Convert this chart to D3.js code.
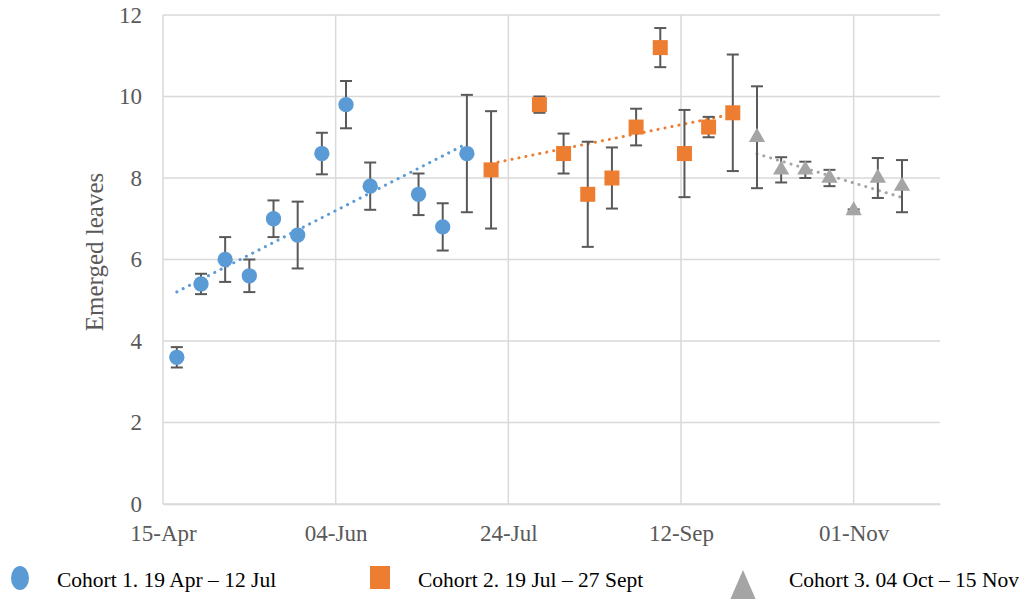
<!DOCTYPE html>
<html>
<head>
<meta charset="utf-8">
<script src="https://cdn.jsdelivr.net/npm/d3@7"></script>
<style>
  body { margin: 0; background: #fff; }
  svg { display: block; font-family: "Liberation Serif", "Times New Roman", serif; }
</style>
</head>
<body>
<div id="chart"></div>
<script>
// cohort 1
var c1Dates = ['2017-04-19', '2017-04-26', '2017-05-03', '2017-05-10', '2017-05-17', '2017-05-24',
    '2017-05-31', '2017-06-07', '2017-06-14', '2017-06-28', '2017-07-05', '2017-07-12'];
var c1Values = [3.6, 5.4, 6.0, 5.6, 7.0, 6.6, 8.6, 9.8, 7.8, 7.6, 6.8, 8.6];
var c1Errors = [0.25, 0.25, 0.55, 0.4, 0.45, 0.82, 0.51, 0.58, 0.58, 0.51, 0.58, 1.44];

// cohort 2
var c2Dates = ['2017-07-19', '2017-08-02', '2017-08-09', '2017-08-16', '2017-08-23', '2017-08-30',
    '2017-09-06', '2017-09-13', '2017-09-20', '2017-09-27'];
var c2Values = [8.2, 9.8, 8.6, 7.6, 8.0, 9.25, 11.2, 8.6, 9.25, 9.6];
var c2Errors = [1.44, 0.2, 0.49, 1.29, 0.75, 0.45, 0.48, 1.07, 0.25, 1.43];

// cohort 3
var c3Dates = ['2017-10-04', '2017-10-11', '2017-10-18', '2017-10-25', '2017-11-01', '2017-11-08', '2017-11-15'];
var c3Values = [9.0, 8.2, 8.2, 8.0, 7.2, 8.0, 7.8];
var c3Errors = [1.25, 0.31, 0.2, 0.2, 0.03, 0.49, 0.64];

var seriesNames = ['Cohort 1. 19 Apr \u2013 12 Jul', 'Cohort 2. 19 Jul \u2013 27 Sept', 'Cohort 3. 04 Oct \u2013 15 Nov'];
var xTickDates = ['2017-04-15', '2017-06-04', '2017-07-24', '2017-09-12', '2017-11-01'];
var yTicks = [0, 2, 4, 6, 8, 10, 12];

var width = 1019,
    height = 599,
    margin = { left: 163, right: 79, top: 15, bottom: 95 },
    colors = ['#5b9bd5', '#ed7d31', '#a5a5a5'],
    textColor = '#595959',
    gridColor = '#d9d9d9';

var parse = d3.timeParse('%Y-%m-%d');

function makeSeries(dates, values, errors, shape, i) {
    return {
        shape: shape,
        color: colors[i],
        name: seriesNames[i],
        points: dates.map(function(d, j) {
            return { date: parse(d), value: values[j], err: errors[j] };
        })
    };
}

var series = [
    makeSeries(c1Dates, c1Values, c1Errors, 'circle', 0),
    makeSeries(c2Dates, c2Values, c2Errors, 'square', 1),
    makeSeries(c3Dates, c3Values, c3Errors, 'triangle', 2)
];

var svg = d3.select('#chart')
    .append('svg')
    .attr('width', width)
    .attr('height', height);

var x = d3.scaleTime()
    .domain([parse('2017-04-15'), parse('2017-11-26')])
    .range([margin.left, width - margin.right]);

var y = d3.scaleLinear()
    .domain([0, 12])
    .range([height - margin.bottom, margin.top]);

// grid
svg.append('g')
    .selectAll('line.h')
    .data(yTicks)
    .enter()
    .append('line')
    .attr('x1', x.range()[0])
    .attr('x2', x.range()[1])
    .attr('y1', function(d) { return y(d); })
    .attr('y2', function(d) { return y(d); })
    .style('stroke', gridColor)
    .style('stroke-width', 1.5);

svg.append('g')
    .selectAll('line.v')
    .data(xTickDates.map(parse))
    .enter()
    .append('line')
    .attr('x1', function(d) { return x(d); })
    .attr('x2', function(d) { return x(d); })
    .attr('y1', y(12))
    .attr('y2', y(0))
    .style('stroke', gridColor)
    .style('stroke-width', 1.5);

// axes
var xAxis = svg.append('g')
    .attr('transform', 'translate(0,' + y(0) + ')')
    .call(d3.axisBottom(x)
        .tickValues(xTickDates.map(parse))
        .tickFormat(d3.timeFormat('%d-%b'))
        .tickSize(0)
        .tickPadding(21));
xAxis.select('.domain').style('stroke', gridColor).style('stroke-width', 1.5);
xAxis.selectAll('text').style('font-size', '23px').style('fill', textColor)
    .style('font-family', '"Liberation Serif", serif');

var yAxis = svg.append('g')
    .attr('transform', 'translate(' + (margin.left - 21) + ',0)')
    .call(d3.axisLeft(y).tickValues(yTicks).tickFormat(d3.format('d')).tickSize(0).tickPadding(0));
yAxis.select('.domain').remove();
yAxis.selectAll('text').style('font-size', '23px').style('fill', textColor)
    .style('font-family', '"Liberation Serif", serif');

svg.append('text')
    .attr('transform', 'translate(103,252) rotate(-90)')
    .attr('text-anchor', 'middle')
    .style('font-size', '25px')
    .style('fill', textColor)
    .text('Emerged leaves');

// linear trendlines (least squares on the data points)
series.forEach(function(s) {
    var xs = s.points.map(function(p) { return +p.date; }),
        ys = s.points.map(function(p) { return p.value; }),
        mx = d3.mean(xs),
        my = d3.mean(ys),
        sxy = d3.sum(xs, function(v, k) { return (v - mx) * (ys[k] - my); }),
        sxx = d3.sum(xs, function(v) { return (v - mx) * (v - mx); }),
        slope = sxy / sxx,
        x0 = d3.min(xs),
        x1 = d3.max(xs);
    svg.append('line')
        .attr('x1', x(new Date(x0)))
        .attr('x2', x(new Date(x1)))
        .attr('y1', y(my + slope * (x0 - mx)))
        .attr('y2', y(my + slope * (x1 - mx)))
        .style('stroke', s.color)
        .style('stroke-width', 3)
        .style('stroke-linecap', 'round')
        .style('stroke-dasharray', '0.1 7');
});

// error bars
series.forEach(function(s) {
    var g = svg.append('g').style('stroke', textColor).style('stroke-width', 2);
    s.points.forEach(function(p) {
        var cx = x(p.date), top = y(p.value + p.err), bot = y(p.value - p.err);
        g.append('line').attr('x1', cx).attr('x2', cx).attr('y1', top).attr('y2', bot);
        g.append('line').attr('x1', cx - 6).attr('x2', cx + 6).attr('y1', top).attr('y2', top);
        g.append('line').attr('x1', cx - 6).attr('x2', cx + 6).attr('y1', bot).attr('y2', bot);
    });
});

var symbolFor = {
    circle: d3.symbol().type(d3.symbolCircle).size(185),
    square: d3.symbol().type(d3.symbolSquare).size(225),
    triangle: d3.symbol().type(d3.symbolTriangle).size(115)
};

// markers
series.forEach(function(s) {
    svg.append('g')
        .selectAll('path')
        .data(s.points)
        .enter()
        .append('path')
        .attr('d', symbolFor[s.shape])
        .attr('transform', function(p) { return 'translate(' + x(p.date) + ',' + y(p.value) + ')'; })
        .style('fill', s.color);
});

// legend
var legendX = [20, 380, 743],
    textX = [57, 418, 789];
var legend = svg.append('g');
legend.append('ellipse').attr('cx', legendX[0]).attr('cy', 578).attr('rx', 9).attr('ry', 12)
    .style('fill', colors[0]);
legend.append('rect').attr('x', legendX[1] - 10).attr('y', 566).attr('width', 20).attr('height', 23)
    .style('fill', colors[1]);
legend.append('path').attr('d', 'M' + legendX[2] + ',570 L' + (legendX[2] + 13) + ',600 L' + (legendX[2] - 13) + ',600 Z')
    .style('fill', colors[2]);
series.forEach(function(s, i) {
    legend.append('text')
        .attr('x', textX[i])
        .attr('y', 587)
        .style('font-size', '21.5px')
        .style('fill', '#000')
        .text(s.name);
});
</script>
</body>
</html>
